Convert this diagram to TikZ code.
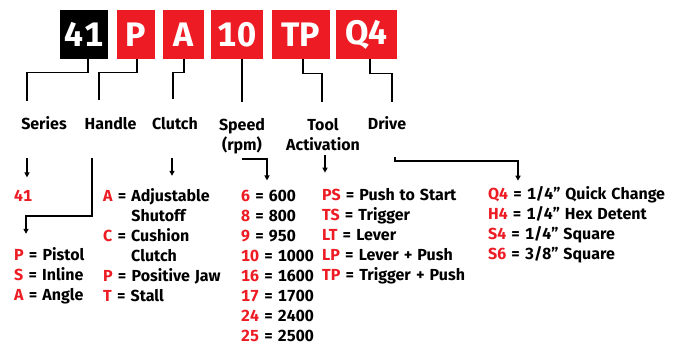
\documentclass[tikz,border=0pt]{standalone}
\usepackage{fontspec}
\setmainfont{Fira Sans}[Numbers=Monospaced, WordSpace=1.3]
\usetikzlibrary{arrows.meta}
\definecolor{codered}{RGB}{237,28,36}
\newcommand{\rc}[1]{\textcolor{codered}{#1}}

\begin{document}
\begin{tikzpicture}[x=1pt, y=-1pt,
    box/.style={fill=codered, text=white, minimum height=49pt, inner sep=0pt,
        font=\fontsize{34}{34}\selectfont\bfseries},
    head/.style={font=\fontsize{16}{20}\selectfont\bfseries, align=center, inner sep=0pt, anchor=base},
    list/.style={font=\fontsize{16}{20}\selectfont\bfseries, align=left, inner sep=0pt, anchor=base west},
    wire/.style={line width=1.2pt},
    arr/.style={line width=1.2pt, -{Triangle[length=5pt,width=5pt]}}]
    \useasboundingbox (0,0) rectangle (689,345);

    % Code boxes
    \node[box, fill=black, minimum width=48pt] (b41) at (84,34.5) {41};
    \node[box, minimum width=38pt] (bP) at (136,34.5) {P};
    \node[box, minimum width=41pt] (bA) at (183.5,34.5) {A};
    \node[box, minimum width=52pt] (b10) at (237,34.5) {10};
    \node[box, minimum width=58pt] (bTP) at (301,34.5) {TP};
    \node[box, minimum width=61pt] (bQ4) at (366.5,34.5) {Q4};

    % Headings (base = last line)
    \node[head] (hSeries) at (44,130) {Series};
    \node[head] (hHandle) at (110.5,130) {Handle};
    \node[head] (hClutch) at (175,129) {Clutch};
    \node[head] (hSpeed) at (242,150) {Speed\\(rpm)};
    \node[head] (hTool) at (323,150) {Tool\\Activation};
    \node[head] (hDrive) at (387,130) {Drive};

    % Box to heading wires
    \coordinate (tSeries) at (27,101);
    \coordinate (tHandle) at (99,100);
    \coordinate (tClutch) at (173,99);
    \coordinate (tSpeed) at (242,102);
    \coordinate (tTool) at (322,102);
    \coordinate (tDrive) at (392,102);
    \draw[wire] ([xshift=4pt]b41.south) -- ++(0,13) -| (tSeries);
    \draw[wire] ([xshift=1pt]bP.south) -- ++(0,13) -| (tHandle);
    \draw[wire] ([xshift=0.5pt]bA.south) -- ++(0,13) -| (tClutch);
    \draw[wire] ([xshift=5pt]b10.south) -- (tSpeed);
    \draw[wire] ([xshift=2pt]bTP.south) -- ++(0,14) -| (tTool);
    \draw[wire] ([xshift=3.5pt]bQ4.south) -- ++(0,14) -| (tDrive);

    % Option lists (base = last line)
    \node[list] (lSeries) at (14,201) {\rc{41}};
    \node[list] (lHandle) at (14,300) {\rc{P} = Pistol\\\rc{S} = Inline\\\rc{A} = Angle};
    \node[list] (lClutch) at (103,301) {\rc{A} = Adjustable\\\phantom{A = }Shutoff\\
        \rc{C} = Cushion\\\phantom{C = }Clutch\\\rc{P} = Positive Jaw\\\rc{T} = Stall};
    \node[list] (lSpeed) at (241,341) {\rc{6} = 600\\\rc{8} = 800\\\rc{9} = 950\\\rc{10} = 1000\\
        \rc{16} = 1600\\\rc{17} = 1700\\\rc{24} = 2400\\\rc{25} = 2500};
    \node[list] (lTool) at (322,280) {\rc{PS} = Push to Start\\\rc{TS} = Trigger\\\rc{LT} = Lever\\
        \rc{LP} = Lever + Push\\\rc{TP} = Trigger + Push};
    \node[list] (lDrive) at (488,259) {\rc{Q4} = 1/4” Quick Change\\\rc{H4} = 1/4” Hex Detent\\
        \rc{S4} = 1/4” Square\\\rc{S6} = 3/8” Square};

    % Heading to list arrows
    \coordinate (aSeries) at (27,158);
    \coordinate (aHandle) at (92,158);
    \coordinate (aClutch) at (172,158);
    \coordinate (aSpeed) at (242,159);
    \coordinate (aTool) at (325,155);
    \coordinate (aDrive) at (395,157);
    \draw[arr, shorten >=12pt] (aSeries) -- ([xshift=13pt]lSeries.north west);
    \draw[arr, shorten >=13pt] (aHandle) -- ++(0,58) -| ([xshift=12pt]lHandle.north west);
    \draw[arr, shorten >=12pt] (aClutch) -- ([xshift=69pt]lClutch.north west);
    \draw[arr, shorten >=9pt] (aSpeed) -| ([xshift=26pt]lSpeed.north west);
    \draw[arr, shorten >=15pt] (aTool) -- ([xshift=3pt]lTool.north west);
    \draw[arr, shorten >=5pt] (aDrive) -- ++(0,4) -| ([xshift=30pt]lDrive.north west);
\end{tikzpicture}
\end{document}
